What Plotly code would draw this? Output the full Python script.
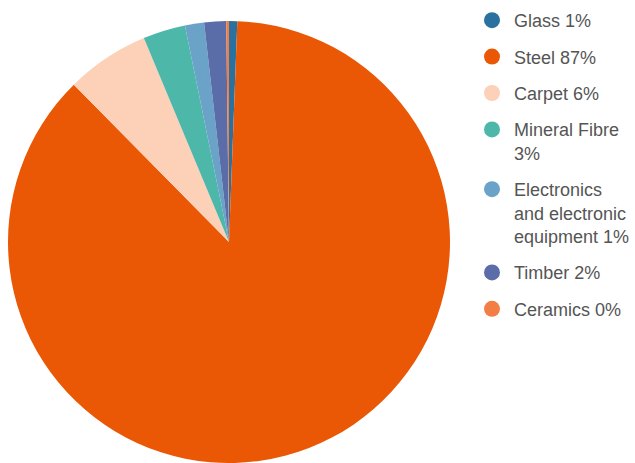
import textwrap
import plotly.graph_objects as go

# Share of each material (percent)
materials = ["Glass", "Steel", "Carpet", "Mineral Fibre",
             "Electronics and electronic equipment", "Timber", "Ceramics"]
shares = [0.6, 87.1, 6.1, 3.1, 1.4, 1.6, 0.2]
colors = ["#2a71a0", "#ea5705", "#fcd1b8", "#4db8a9", "#6aa2c8", "#5a6da8", "#f27e45"]

W, H = 635, 463
cx, cy, r = 229, 242, 221

fig = go.Figure()

fig.add_trace(go.Pie(
    labels=materials,
    values=shares,
    marker=dict(colors=colors, line=dict(width=0)),
    sort=False,
    direction="clockwise",
    rotation=0,
    textinfo="none",
    showlegend=False,
    domain=dict(x=[(cx - r) / W, (cx + r) / W], y=[0, (2 * r) / H]),
))

# Legend entries with round markers
for i, (name, val, col) in enumerate(zip(materials, shares, colors)):
    label = "<br>".join(textwrap.wrap(f"{name} {round(val)}%", width=14))
    fig.add_trace(go.Scatter(
        x=[None], y=[None], mode="markers", name=label,
        marker=dict(color=col, size=16, symbol="circle"),
        legendgroup=f"g{i}", showlegend=True,
    ))

fig.update_layout(
    width=W, height=H,
    margin=dict(l=0, r=0, t=0, b=0),
    paper_bgcolor="white", plot_bgcolor="white",
    xaxis=dict(visible=False), yaxis=dict(visible=False),
    font=dict(family="Liberation Sans, Arial, sans-serif", size=18, color="#555555"),
    legend=dict(
        x=470 / W, xanchor="left", y=1 - 2 / H, yanchor="top",
        valign="top", tracegroupgap=10, itemwidth=34,
        font=dict(size=18, color="#555555"),
        bgcolor="rgba(0,0,0,0)",
    ),
)

fig.write_html("out.html")
